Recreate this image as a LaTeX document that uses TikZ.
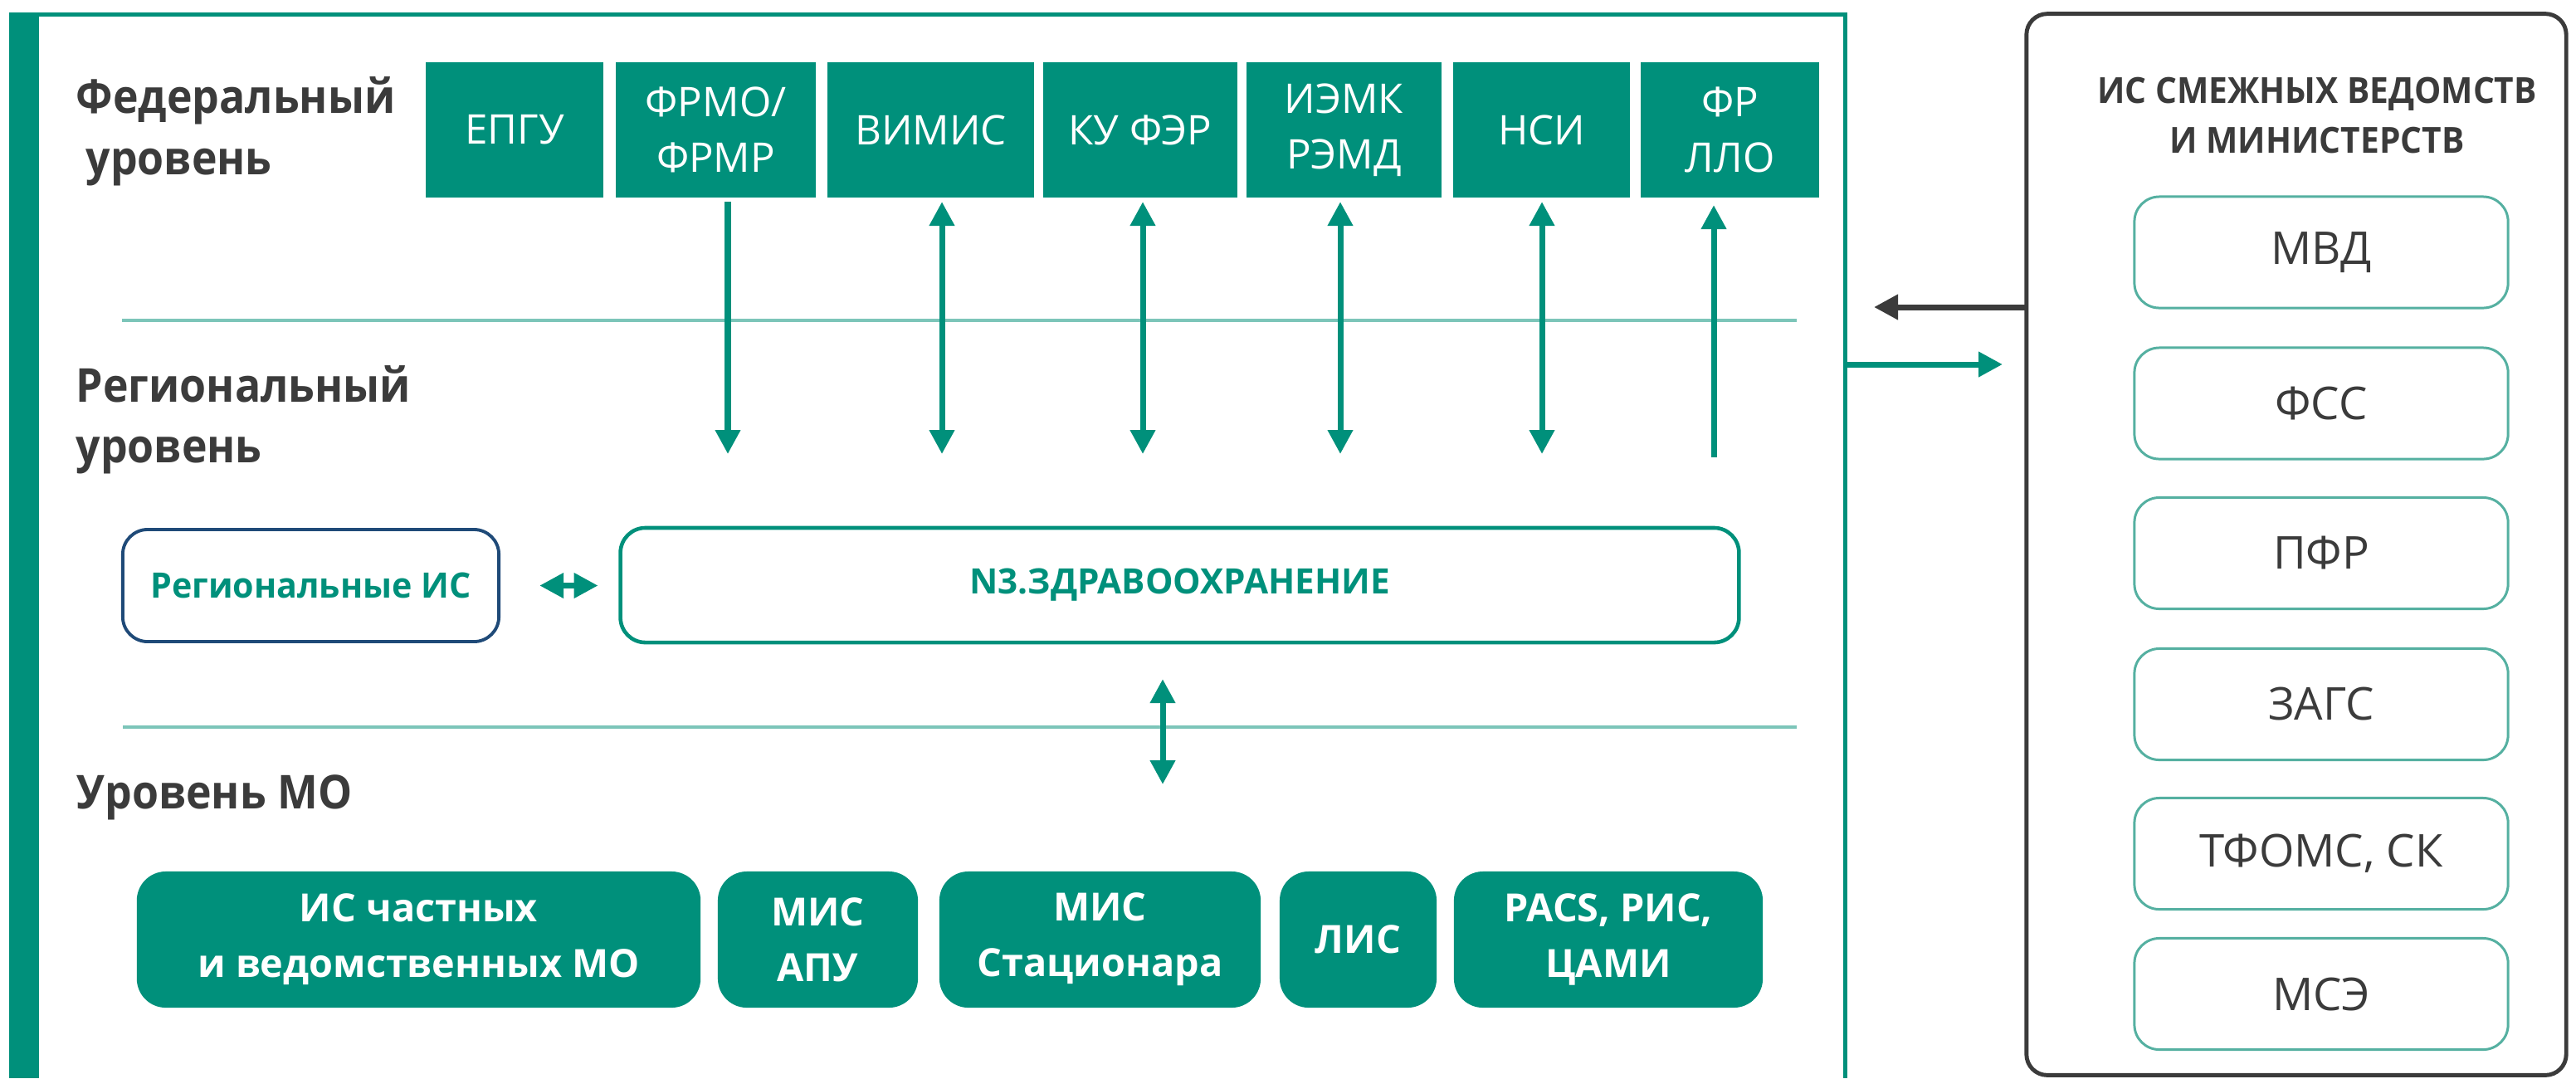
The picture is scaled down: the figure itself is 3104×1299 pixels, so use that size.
\documentclass[tikz,border=0pt]{standalone}
\usepackage{fontspec}
\setmainfont{Open Sans}
\newfontfamily\lvlfont{Open Sans}[FakeStretch=0.92]
\newfontfamily\ttlfont{Open Sans}[FakeStretch=0.94]
\newfontfamily\risfont{Open Sans}[FakeStretch=0.975]
\usetikzlibrary{arrows.meta}
\definecolor{teal1}{HTML}{00907B}
\definecolor{tealL}{HTML}{7CC5B9}
\definecolor{tealO}{HTML}{55B0A1}
\definecolor{dgray}{HTML}{3B3B3B}
\definecolor{navy}{HTML}{1F4A78}
\tikzset{
  fedbox/.style={fill=teal1, draw=none, inner sep=0pt, outer sep=0pt, minimum height=1.63cm,
    text=white, align=center, font=\fontsize{14}{19}\selectfont},
  mobox/.style={fill=teal1, draw=none, rounded corners=0.35cm, inner sep=0pt, outer sep=0pt,
    minimum height=1.64cm, text=white, align=center, font=\bfseries\fontsize{13.3}{19}\selectfont},
  extbox/.style={draw=tealO, line width=0.85pt, rounded corners=0.3cm, inner sep=0pt, outer sep=0pt,
    minimum width=4.5cm, minimum height=1.34cm, text=dgray, font=\fontsize{15.5}{19}\selectfont},
  lvl/.style={anchor=base west, inner sep=0pt, text=dgray, font=\lvlfont\bfseries\fontsize{16}{20}\selectfont},
  ttl/.style={anchor=base, inner sep=0pt, text=dgray, font=\ttlfont\bfseries\fontsize{12.3}{17}\selectfont},
  tarr/.style={draw=teal1, line width=2pt},
  tipT/.tip={Triangle[length=0.29cm, width=0.29cm]},
}
\begin{document}
\begin{tikzpicture}[x=0.01cm, y=-0.01cm]
\useasboundingbox (0,0) rectangle (3104,1299);
% main frame
\fill[teal1] (11,15) rectangle (47,1299);
\draw[teal1, line width=1.42pt] (47,17.5) -- (2223,17.5) -- (2223,1299);
% separators
\draw[tealL, line width=1.1pt] (147,386) -- (2165,386);
\draw[tealL, line width=1.1pt] (148,876) -- (2165,876);
% level labels
\node[lvl] (l1a) at (91,136) {Федеральный};
\node[lvl] (l1b) at (103,210) {уровень};
\node[lvl] (l2a) at (91,484) {Региональный};
\node[lvl] (l2b) at (91,557) {уровень};
\node[lvl] (l3) at (92,974) {Уровень МО};
% federal boxes
\node[fedbox, minimum width=2.14cm] (f1) at (620,156.5) {ЕПГУ};
\node[fedbox, minimum width=2.41cm] (f2) at (862.5,156.5) {ФРМО/\\ФРМР};
\node[fedbox, minimum width=2.49cm] (f3) at (1121.5,156.5) {ВИМИС};
\node[fedbox, minimum width=2.34cm] (f4) at (1374,156.5) {КУ ФЭР};
\node[fedbox, minimum width=2.35cm] (f5) at (1619.5,156.5) {ИЭМК\\РЭМД};
\node[fedbox, minimum width=2.13cm] (f6) at (1857.5,156.5) {НСИ};
\node[fedbox, minimum width=2.15cm] (f7) at (2084.5,156.5) {ФР\\ЛЛО};
% arrow ends
\coordinate (e2) at (877,547);
\coordinate (e3) at (1135,547);
\coordinate (e4) at (1377,547);
\coordinate (e5) at (1615,547);
\coordinate (e6) at (1858,547);
\coordinate (e7) at (2065,551);
\draw[tarr, -{tipT}, shorten <=0.05cm] (f2.south -| e2) -- (e2);
\draw[tarr, {tipT}-{tipT}, shorten <=0.05cm] (f3.south -| e3) -- (e3);
\draw[tarr, {tipT}-{tipT}, shorten <=0.05cm] (f4.south -| e4) -- (e4);
\draw[tarr, {tipT}-{tipT}, shorten <=0.05cm] (f5.south -| e5) -- (e5);
\draw[tarr, {tipT}-{tipT}, shorten <=0.05cm] (f6.south -| e6) -- (e6);
\draw[tarr, {tipT}-, shorten <=0.09cm] (f7.south -| e7) -- (e7);
% regional
\node[draw=navy, line width=1.1pt, rounded corners=0.3cm, minimum width=4.53cm, minimum height=1.35cm,
  inner sep=0pt, outer sep=0pt, text=teal1, font=\risfont\bfseries\fontsize{12}{15}\selectfont] (ris) at (374.5,705.5) {Региональные ИС};
\node[draw=teal1, line width=1.3pt, rounded corners=0.3cm, minimum width=13.47cm, minimum height=1.38cm,
  inner sep=0pt, outer sep=0pt, text=teal1, font=\bfseries\fontsize{12}{15}\selectfont] (n3) at (1421.5,705) {N3.ЗДРАВООХРАНЕНИЕ};
\draw[tarr, {tipT}-{tipT}, shorten <=0.49cm, shorten >=0.27cm] (ris.east) -- (ris.east -| n3.west);
% N3 to MO
\coordinate (m1) at (1401,945);
\draw[tarr, {tipT}-{tipT}, shorten <=0.44cm] (n3.south -| m1) -- (m1);
% MO boxes
\node[mobox, minimum width=6.79cm] (b1) at (504.5,1132) {ИС частных\\и ведомственных МО};
\node[mobox, minimum width=2.41cm] (b2) at (985.5,1132) {МИС\\АПУ};
\node[mobox, minimum width=3.87cm] (b3) at (1325.5,1132) {МИС\\Стационара};
\node[mobox, minimum width=1.89cm] (b4) at (1636.5,1132) {ЛИС};
\node[mobox, minimum width=3.72cm] (b5) at (1938,1132) {PACS, РИС,\\ЦАМИ};
% right block
\node[draw=dgray, line width=1.4pt, rounded corners=0.25cm, minimum width=6.5cm, minimum height=12.78cm,
  inner sep=0pt, outer sep=0pt] (ext) at (2767,656) {};
\node[ttl] (t1) at (2792,124) {ИС СМЕЖНЫХ ВЕДОМСТВ};
\node[ttl] (t2) at (2792,184) {И МИНИСТЕРСТВ};
\node[extbox] (r1) at (2797,304) {МВД};
\node[extbox] (r2) at (2797,486) {ФСС};
\node[extbox] (r3) at (2797,666.5) {ПФР};
\node[extbox] (r4) at (2797,848.5) {ЗАГС};
\node[extbox] (r5) at (2797,1028.5) {ТФОМС, СК};
\node[extbox] (r6) at (2797,1197.5) {МСЭ};
% connectors between blocks
\coordinate (g) at (2258,370);
\draw[draw=dgray, line width=2pt, -{tipT}] (ext.west |- g) -- (g);
\coordinate (gs) at (2223,439);
\coordinate (gt) at (2413,439);
\draw[tarr, -{tipT}] (gs) -- (gt);
\end{tikzpicture}
\end{document}
